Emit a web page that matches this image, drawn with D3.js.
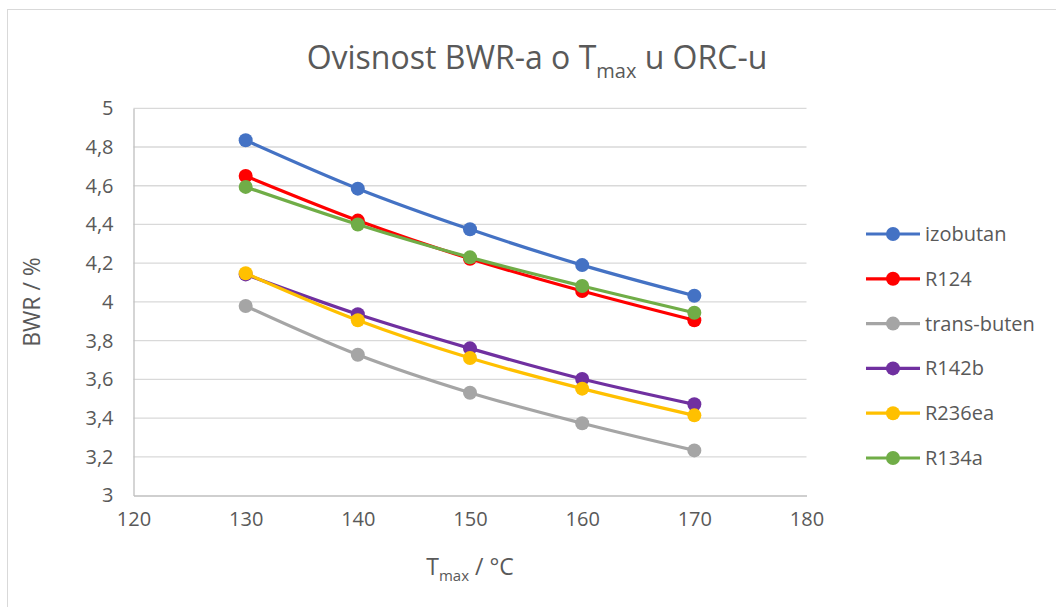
<!DOCTYPE html>
<html>
<head>
<meta charset="utf-8">
<script src="https://cdn.jsdelivr.net/npm/d3@7"></script>
<style>
  html, body { margin: 0; padding: 0; background: #fff; }
  svg { display: block; }
  text { font-family: "Open Sans", "Noto Sans", sans-serif; fill: #595959; }
</style>
</head>
<body>
<svg id="chart" width="1056" height="607"></svg>
<script>
// ---- data ----
const temperatures = [130, 140, 150, 160, 170];
const seriesNames = ["izobutan", "R124", "trans-buten", "R142b", "R236ea", "R134a"];
const izobutan   = [4.835, 4.585, 4.375, 4.19, 4.032];
const R124       = [4.65, 4.42, 4.223, 4.056, 3.905];
const transButen = [3.979, 3.727, 3.531, 3.373, 3.233];
const R142b      = [4.142, 3.936, 3.76, 3.602, 3.471];
const R236ea     = [4.148, 3.905, 3.71, 3.552, 3.414];
const R134a      = [4.594, 4.40, 4.23, 4.082, 3.944];
const seriesColors = ["#4472C4", "#FF0000", "#A5A5A5", "#7030A0", "#FFC000", "#70AD47"];
const xTicks = [120, 130, 140, 150, 160, 170, 180];
const yTicks = [3, 3.2, 3.4, 3.6, 3.8, 4, 4.2, 4.4, 4.6, 4.8, 5];

const seriesValues = [izobutan, R124, transButen, R142b, R236ea, R134a];
const series = seriesNames.map((name, i) => ({
  name, color: seriesColors[i],
  points: temperatures.map((t, j) => ({ x: t, y: seriesValues[i][j] }))
}));

// ---- layout ----
const svg = d3.select("#chart");
const plot = { left: 133.5, right: 806.5, top: 108.3, bottom: 495.5 };

// chart border
svg.append("rect")
  .attr("x", 7.5).attr("y", 9.5)
  .attr("width", 1100).attr("height", 700)
  .attr("fill", "none").attr("stroke", "#d9d9d9").attr("stroke-width", 1);

const x = d3.scaleLinear().domain([120, 180]).range([plot.left, plot.right]);
const y = d3.scaleLinear().domain([3, 5]).range([plot.bottom, plot.top]);

// gridlines
svg.append("g")
  .selectAll("line")
  .data(yTicks.filter(v => v !== 3))
  .join("line")
  .attr("x1", plot.left).attr("x2", plot.right)
  .attr("y1", d => y(d)).attr("y2", d => y(d))
  .attr("stroke", "#d9d9d9").attr("stroke-width", 1.3);

const fmt = v => d3.format("~g")(+v.toFixed(1)).replace(".", ",");

// y axis
const yAxis = svg.append("g")
  .attr("transform", `translate(${plot.left},0)`)
  .call(d3.axisLeft(y).tickValues(yTicks).tickSize(0).tickPadding(20).tickFormat(fmt));
yAxis.select(".domain").attr("stroke", "#bfbfbf").attr("stroke-width", 1.3);
yAxis.selectAll("text").attr("font-size", 20).attr("fill", "#595959")
  .style("font-family", '"Open Sans", sans-serif');

// x axis
const xAxis = svg.append("g")
  .attr("transform", `translate(0,${plot.bottom})`)
  .call(d3.axisBottom(x).tickValues(xTicks).tickSize(0).tickPadding(16).tickFormat(d3.format("d")));
xAxis.select(".domain").attr("stroke", "#bfbfbf").attr("stroke-width", 1.3);
xAxis.selectAll("text").attr("font-size", 20).attr("fill", "#595959")
  .style("font-family", '"Open Sans", sans-serif');

// lines
const line = d3.line().x(d => x(d.x)).y(d => y(d.y)).curve(d3.curveCatmullRom);
const g = svg.append("g");
series.forEach(s => {
  g.append("path").datum(s.points)
    .attr("d", line).attr("fill", "none")
    .attr("stroke", s.color).attr("stroke-width", 3.2)
    .attr("stroke-linejoin", "round");
  g.selectAll(null).data(s.points).join("circle")
    .attr("cx", d => x(d.x)).attr("cy", d => y(d.y))
    .attr("r", 7).attr("fill", s.color);
});

// title
const title = svg.append("text")
  .attr("x", 537).attr("y", 69)
  .attr("text-anchor", "middle")
  .attr("font-size", 32);
title.append("tspan").text("Ovisnost BWR-a o T");
title.append("tspan").text("max").attr("font-size", 20).attr("dy", 9);
title.append("tspan").text(" u ORC-u").attr("dy", -9);

// axis titles
const xt = svg.append("text")
  .attr("x", 470).attr("y", 575)
  .attr("text-anchor", "middle").attr("font-size", 23);
xt.append("tspan").text("T");
xt.append("tspan").text("max").attr("font-size", 15).attr("dy", 6);
xt.append("tspan").text(" / °C").attr("dy", -6);

svg.append("text")
  .attr("transform", "translate(40,302) rotate(-90)")
  .attr("text-anchor", "middle").attr("font-size", 23)
  .text("BWR / %");

// legend
const legend = svg.append("g").attr("transform", "translate(866,234)");
series.forEach((s, i) => {
  const row = legend.append("g").attr("transform", `translate(0,${i * 44.8})`);
  row.append("line").attr("x1", 0).attr("x2", 54).attr("y1", 0).attr("y2", 0)
    .attr("stroke", s.color).attr("stroke-width", 3.2);
  row.append("circle").attr("cx", 27).attr("cy", 0).attr("r", 7).attr("fill", s.color);
  row.append("text").attr("x", 59).attr("y", 0).attr("dy", "0.35em")
    .attr("font-size", 20).text(s.name);
});
</script>
</body>
</html>
